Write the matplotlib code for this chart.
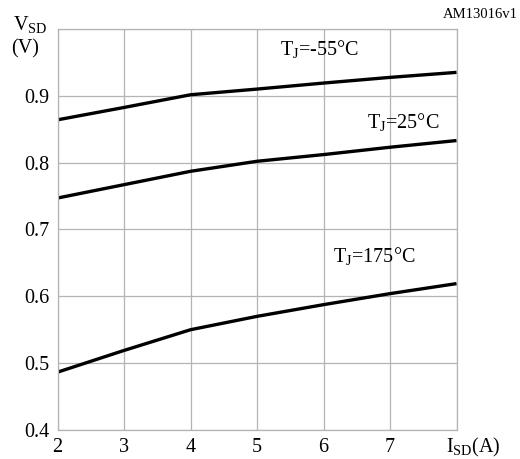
import matplotlib.pyplot as plt

isd = [2, 3, 4, 5, 6, 7, 8]
vsd_m55 = [0.864, 0.8825, 0.9015, 0.910, 0.919, 0.9275, 0.935]
vsd_25 = [0.747, 0.767, 0.787, 0.802, 0.812, 0.823, 0.833]
vsd_175 = [0.4865, 0.519, 0.550, 0.570, 0.5875, 0.604, 0.619]

xticks = [2, 3, 4, 5, 6, 7]
yticks = [0.4, 0.5, 0.6, 0.7, 0.8, 0.9]

plt.rcParams['font.family'] = ['Liberation Serif', 'DejaVu Serif']
plt.rcParams['mathtext.fontset'] = 'custom'
plt.rcParams['mathtext.rm'] = 'Liberation Serif'

fig = plt.figure(figsize=(5.2, 4.59), dpi=100)
ax = fig.add_axes([0.1106, 0.0632, 0.7674, 0.8738])

for v in [vsd_m55, vsd_25, vsd_175]:
    ax.plot(isd, v, color="black", lw=2.4, solid_capstyle="butt", solid_joinstyle="round")

ax.set_xlim(2, 8)
ax.set_ylim(0.4, 1.0)
ax.set_xticks(range(2, 9))
ax.set_xticklabels([str(t) for t in xticks] + [""])
ax.set_yticks([0.4, 0.5, 0.6, 0.7, 0.8, 0.9, 1.0])
ax.set_yticklabels([f"{t:.1f}" for t in yticks] + [""])
ax.tick_params(length=0, labelsize=14.5, pad=6, colors="black")
ax.grid(color="#b4b4b4", lw=0.9)
for s in ax.spines.values():
    s.set_color("#b4b4b4")
    s.set_linewidth(0.9)

def label(x, y, main, sub, rest, size=14.5):
    ax.text(x, y, r"$\mathregular{" + main + r"}_{\mathregular{" + sub + r"}}$" + rest,
            fontsize=size, ha="left", va="center")

label(5.35, 0.968, "T", "J", "=-55°C")
label(6.65, 0.859, "T", "J", "=25°C")
label(6.14, 0.659, "T", "J", "=175°C")

fig.text(0.025, 0.945, r"$\mathregular{V}_{\mathregular{SD}}$", fontsize=14.5, va="center")
fig.text(0.022, 0.893, "(V)", fontsize=14.5, va="center")
fig.text(0.857, 0.025, r"$\mathregular{I}_{\mathregular{SD}}$(A)", fontsize=14.5, va="center")
fig.text(0.995, 0.968, "AM13016v1", fontsize=10.5, ha="right", va="center")

plt.savefig("out.png", dpi=100)
